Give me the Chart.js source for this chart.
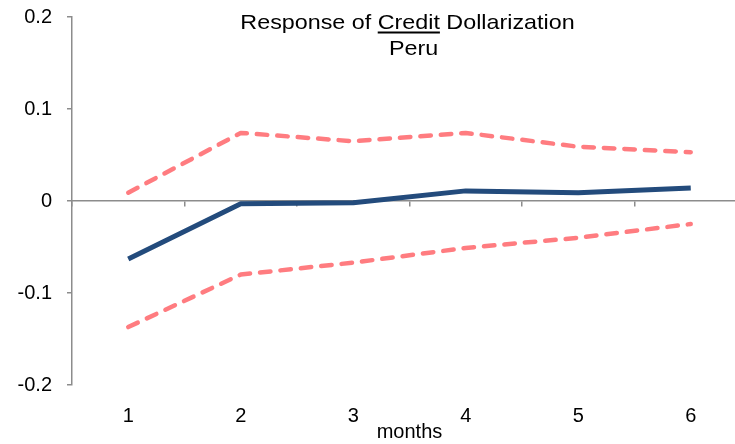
<!DOCTYPE html>
<html>
<head>
<meta charset="utf-8">
<script src="https://cdn.jsdelivr.net/npm/chart.js@4/dist/chart.umd.min.js"></script>
<style>
  html, body { margin: 0; padding: 0; background: #fff; overflow: hidden; }
  #wrap { width: 735px; height: 444px; overflow: hidden; position: relative; }
  #box { width: 760px; height: 444px; position: absolute; left: 0; top: 0; }
</style>
</head>
<body>
<div id="wrap"><div id="box"><canvas id="irfChart"></canvas></div></div>
<script>
// ---- data ----
const months = ["1", "2", "3", "4", "5", "6"];
const response = [-0.063, -0.003, -0.002, 0.011, 0.009, 0.014];
const upperBand = [0.009, 0.074, 0.065, 0.074, 0.059, 0.053];
const lowerBand = [-0.137, -0.080, -0.067, -0.051, -0.040, -0.025];
const yTicks = [-0.2, -0.1, 0, 0.1, 0.2];

const FONT = "'Liberation Sans', Arial, sans-serif";
const AXIS_GREY = "#8c8c8c";
const BLUE = "#234b7c";
const PINK = "#ff7c80";

// two-line title, with "Credit" underlined (text is a bit wider than Arial in the original)
const titlePlugin = {
    id: "underlinedTitle",
    afterDraw(chart) {
        const ctx = chart.ctx;
        const area = chart.chartArea;
        const cx = (area.left + area.right) / 2 - 2;
        const stretch = 1.11;
        const parts = ["Response of ", "Credit", " Dollarization"];
        ctx.save();
        ctx.font = "21px " + FONT;
        ctx.fillStyle = "#000";
        ctx.textBaseline = "alphabetic";
        ctx.textAlign = "left";
        ctx.translate(cx, 0);
        ctx.scale(stretch, 1);
        const widths = parts.map((p) => ctx.measureText(p).width);
        const total = widths.reduce((a, b) => a + b, 0);
        let x = -total / 2;
        const y1 = 29;
        parts.forEach((p, i) => {
            ctx.fillText(p, x, y1);
            if (i === 1) {
                ctx.fillRect(x, y1 + 2.5, widths[i], 2);
            }
            x += widths[i];
        });
        ctx.textAlign = "center";
        ctx.fillText("Peru", 6 / stretch, 55);
        ctx.restore();
    },
};

const lineStyle = (color, dashed) => ({
    borderColor: color,
    backgroundColor: color,
    borderWidth: dashed ? 4.5 : 5,
    borderDash: dashed ? [10.5, 10] : [],
    borderCapStyle: dashed ? "round" : "butt",
    borderJoinStyle: "round",
    pointRadius: 0,
    tension: 0,
    fill: false,
});

new Chart(document.getElementById("irfChart"), {
    type: "line",
    data: {
        labels: months,
        datasets: [
            { label: "upper", data: upperBand, ...lineStyle(PINK, true) },
            { label: "lower", data: lowerBand, ...lineStyle(PINK, true) },
            { label: "response", data: response, ...lineStyle(BLUE, false) },
        ],
    },
    options: {
        responsive: true,
        maintainAspectRatio: false,
        animation: false,
        layout: { padding: { top: 17, right: 13, left: 0, bottom: 0 } },
        plugins: { legend: { display: false }, tooltip: { enabled: false }, title: { display: false } },
        scales: {
            x: {
                type: "category",
                offset: true,
                grid: { display: false },
                border: { display: false },
                ticks: { color: "#000", font: { family: FONT, size: 20 }, padding: 11, maxRotation: 0 },
                title: { display: true, text: "months", color: "#000", font: { family: FONT, size: 20 }, padding: { top: -4, bottom: 0 } },
                afterFit: (scale) => { scale.height = 59; },
            },
            xZero: {
                type: "category",
                labels: months,
                position: { y: 0 },
                offset: true,
                grid: { display: true, drawOnChartArea: false, offset: true, tickLength: 5, color: AXIS_GREY, lineWidth: 1.5 },
                border: { display: true, color: AXIS_GREY, width: 1.5 },
                ticks: { display: false },
            },
            y: {
                min: yTicks[0],
                max: yTicks[yTicks.length - 1],
                afterBuildTicks: (scale) => { scale.ticks = yTicks.map((v) => ({ value: v })); },
                grid: { display: true, drawOnChartArea: false, tickLength: 5, color: AXIS_GREY, lineWidth: 1.5 },
                border: { display: true, color: AXIS_GREY, width: 1.5 },
                ticks: {
                    color: "#000",
                    font: { family: FONT, size: 20 },
                    padding: 15,
                    callback: (v) => String(Math.round(v * 10) / 10),
                },
                afterFit: (scale) => {
                    scale.width = 72;
                    scale.paddingTop = 0;
                    scale.paddingBottom = 0;
                },
            },
        },
    },
    plugins: [titlePlugin],
});
</script>
</body>
</html>
